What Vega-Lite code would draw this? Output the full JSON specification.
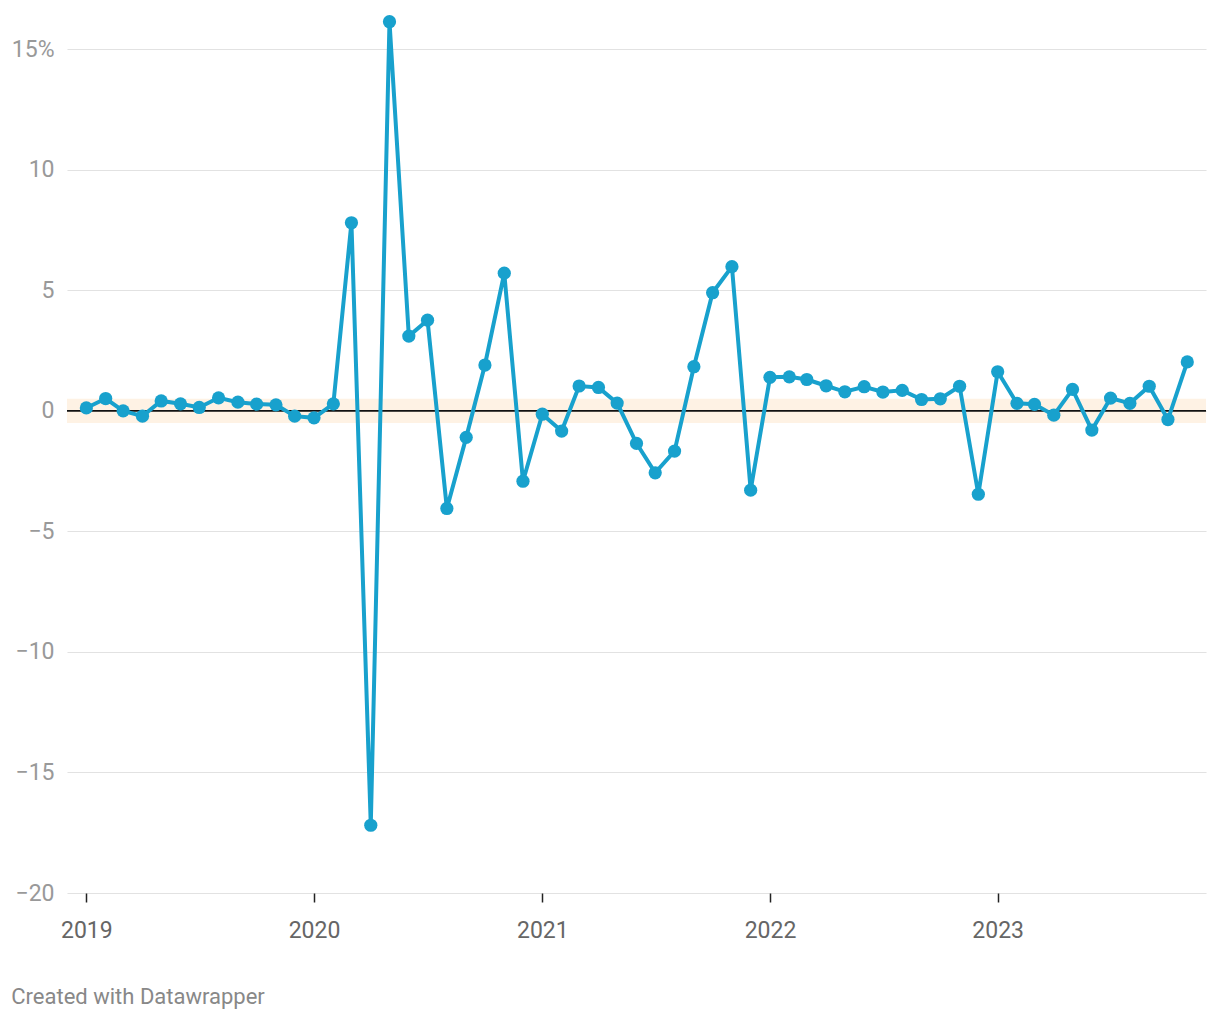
{
  "$schema": "https://vega.github.io/schema/vega-lite/v6.json",
  "autosize": "none",
  "width": 1139,
  "height": 892,
  "padding": {"left": 67, "top": 1, "right": 14, "bottom": 127},
  "background": "white",
  "config": {"view": {"stroke": null}, "font": "Roboto"},
  "title": {"text": "Created with Datawrapper", "orient": "bottom", "anchor": "start", "frame": "bounds", "font": "Roboto", "fontSize": 22, "fontWeight": "normal", "color": "#888888", "offset": 45},
  "layer": [
    {
      "data": {"values": [{}]},
      "mark": {"type": "rect", "color": "#fef2e4"},
      "encoding": {"y": {"datum": -0.5, "type": "quantitative"}, "y2": {"datum": 0.5}}
    },
    {
      "data": {"values": [{}]},
      "mark": {"type": "rule", "color": "#111111", "strokeWidth": 1.6},
      "encoding": {"y": {"datum": 0, "type": "quantitative"}}
    },
    {
      "data": {"name": "series"},
      "mark": {"type": "line", "color": "#18a1cd", "strokeWidth": 4},
      "encoding": {
        "x": {
          "field": "date", "type": "temporal",
          "scale": {"type": "utc", "domain": [{"year": 2018, "month": 12, "date": 1, "utc": true}, {"year": 2023, "month": 12, "date": 1, "utc": true}]},
          "axis": {
            "title": null, "grid": false, "domain": false,
            "values": [{"year": 2019, "month": 1, "date": 1, "utc": true}, {"year": 2020, "month": 1, "date": 1, "utc": true}, {"year": 2021, "month": 1, "date": 1, "utc": true}, {"year": 2022, "month": 1, "date": 1, "utc": true}, {"year": 2023, "month": 1, "date": 1, "utc": true}],
            "format": "%Y", "formatType": "utc",
            "ticks": true, "tickColor": "#222222", "tickSize": 9, "tickWidth": 1.5,
            "labelFont": "Roboto", "labelFontSize": 23, "labelColor": "#666666", "labelPadding": 17
          }
        },
        "y": {
          "field": "value", "type": "quantitative",
          "scale": {"domain": [-20, 17], "nice": false, "zero": false},
          "axis": {
            "title": null, "domain": false, "ticks": false,
            "values": [-20, -15, -10, -5, 0, 5, 10, 15],
            "grid": true, "gridColor": "#e2e2e2", "gridWidth": 1.2,
            "labelExpr": "datum.value == 15 ? datum.label + '%' : datum.label",
            "labelFont": "Roboto", "labelFontSize": 23, "labelColor": "#999999", "labelPadding": 13
          }
        }
      }
    },
    {
      "data": {"name": "series"},
      "mark": {"type": "point", "filled": true, "opacity": 1, "color": "#18a1cd", "size": 175},
      "encoding": {
        "x": {"field": "date", "type": "temporal"},
        "y": {"field": "value", "type": "quantitative"}
      }
    }
  ],
  "datasets": {
    "series": [
      {"date": "2019-01-01", "value": 0.12},
      {"date": "2019-02-01", "value": 0.51},
      {"date": "2019-03-01", "value": 0.0},
      {"date": "2019-04-01", "value": -0.22},
      {"date": "2019-05-01", "value": 0.41},
      {"date": "2019-06-01", "value": 0.29},
      {"date": "2019-07-01", "value": 0.14},
      {"date": "2019-08-01", "value": 0.54},
      {"date": "2019-09-01", "value": 0.36},
      {"date": "2019-10-01", "value": 0.28},
      {"date": "2019-11-01", "value": 0.25},
      {"date": "2019-12-01", "value": -0.22},
      {"date": "2020-01-01", "value": -0.29},
      {"date": "2020-02-01", "value": 0.29},
      {"date": "2020-03-01", "value": 7.8},
      {"date": "2020-04-01", "value": -17.19},
      {"date": "2020-05-01", "value": 16.14},
      {"date": "2020-06-01", "value": 3.1},
      {"date": "2020-07-01", "value": 3.76},
      {"date": "2020-08-01", "value": -4.05},
      {"date": "2020-09-01", "value": -1.1},
      {"date": "2020-10-01", "value": 1.9},
      {"date": "2020-11-01", "value": 5.71},
      {"date": "2020-12-01", "value": -2.92},
      {"date": "2021-01-01", "value": -0.14},
      {"date": "2021-02-01", "value": -0.84},
      {"date": "2021-03-01", "value": 1.03},
      {"date": "2021-04-01", "value": 0.97},
      {"date": "2021-05-01", "value": 0.32},
      {"date": "2021-06-01", "value": -1.35},
      {"date": "2021-07-01", "value": -2.57},
      {"date": "2021-08-01", "value": -1.67},
      {"date": "2021-09-01", "value": 1.83},
      {"date": "2021-10-01", "value": 4.9},
      {"date": "2021-11-01", "value": 5.98},
      {"date": "2021-12-01", "value": -3.29},
      {"date": "2022-01-01", "value": 1.39},
      {"date": "2022-02-01", "value": 1.41},
      {"date": "2022-03-01", "value": 1.3},
      {"date": "2022-04-01", "value": 1.04},
      {"date": "2022-05-01", "value": 0.79},
      {"date": "2022-06-01", "value": 1.0},
      {"date": "2022-07-01", "value": 0.78},
      {"date": "2022-08-01", "value": 0.85},
      {"date": "2022-09-01", "value": 0.47},
      {"date": "2022-10-01", "value": 0.5},
      {"date": "2022-11-01", "value": 1.02},
      {"date": "2022-12-01", "value": -3.46},
      {"date": "2023-01-01", "value": 1.62},
      {"date": "2023-02-01", "value": 0.31},
      {"date": "2023-03-01", "value": 0.27},
      {"date": "2023-04-01", "value": -0.18},
      {"date": "2023-05-01", "value": 0.89},
      {"date": "2023-06-01", "value": -0.8},
      {"date": "2023-07-01", "value": 0.53},
      {"date": "2023-08-01", "value": 0.31},
      {"date": "2023-09-01", "value": 1.02},
      {"date": "2023-10-01", "value": -0.36},
      {"date": "2023-11-01", "value": 2.03}
    ]
  }
}
